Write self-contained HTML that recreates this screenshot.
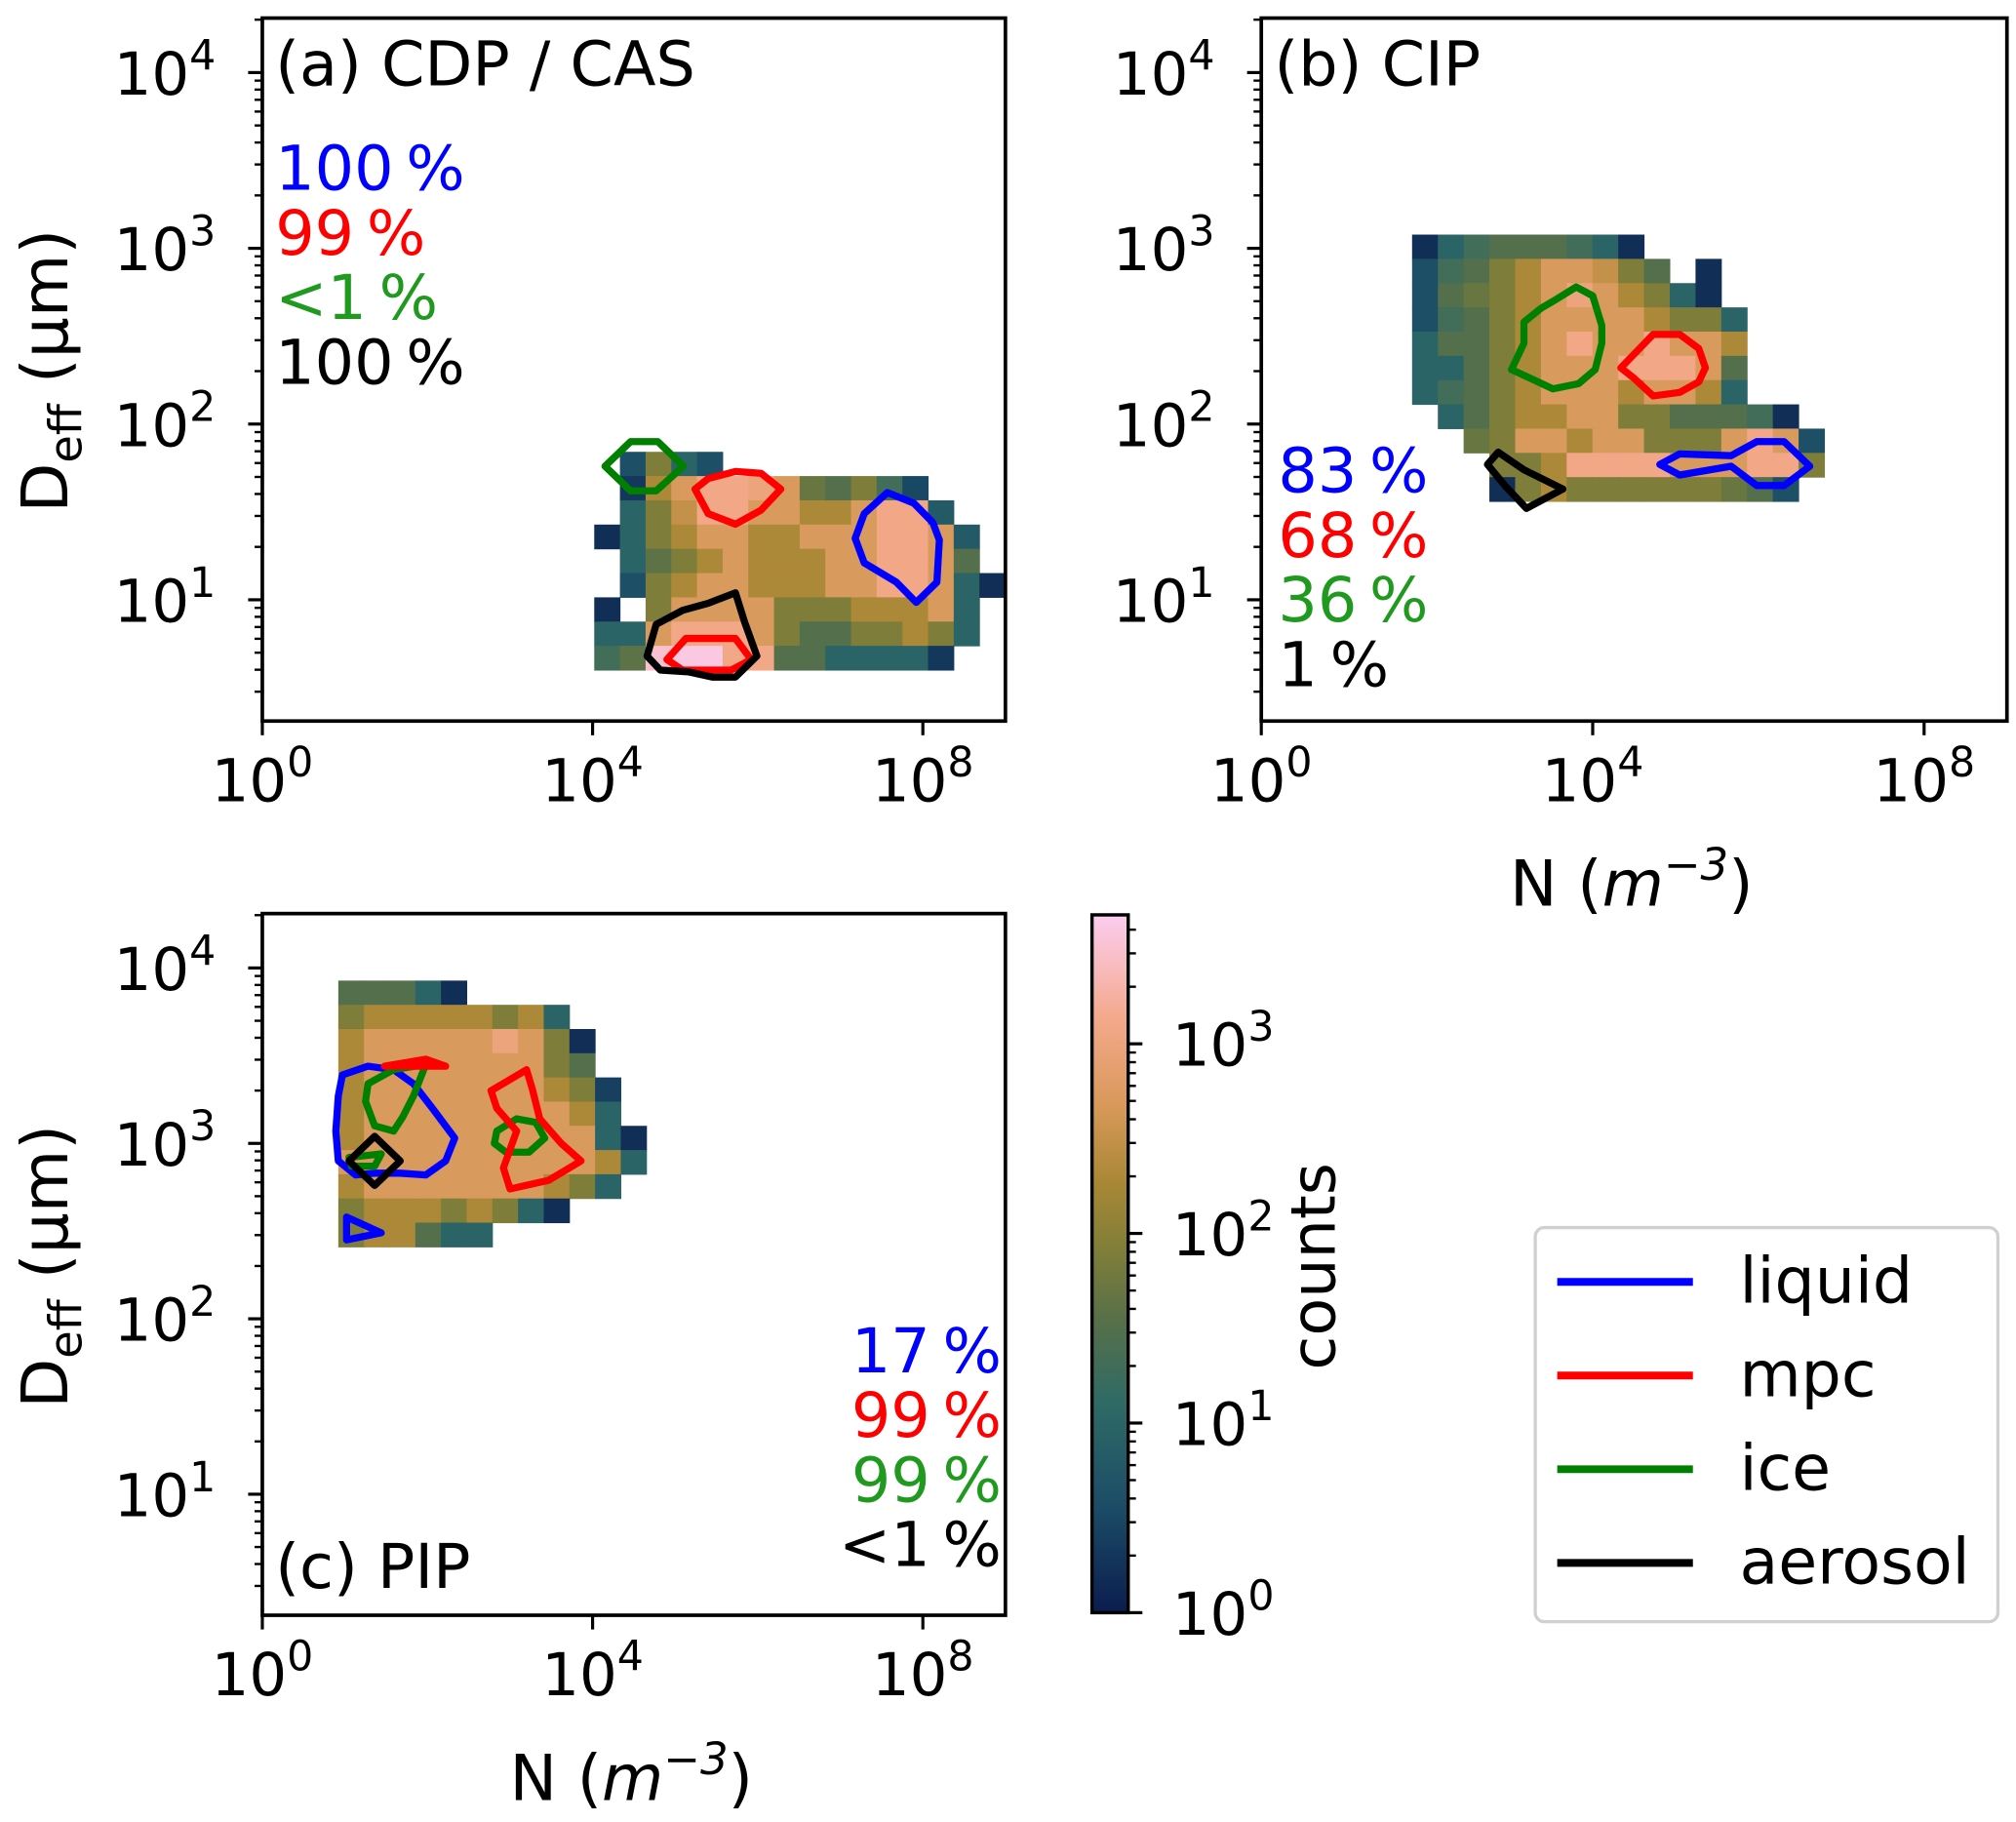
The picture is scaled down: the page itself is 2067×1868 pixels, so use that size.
<!DOCTYPE html>
<html><head><meta charset="utf-8"><style>
html,body{margin:0;padding:0;background:#fff;}
svg{display:block;font-family:"DejaVu Sans","Liberation Sans",sans-serif;}
</style></head><body>
<svg id="fig" width="2067" height="1868" viewBox="0 0 1560 1410" preserveAspectRatio="none" xmlns="http://www.w3.org/2000/svg"></svg>
<script>
// ---- data ----
const xTickExps = [0, 4, 8];
const yTickExps = [1, 2, 3, 4];
const cbTickExps = [0, 1, 2, 3];
const panelTitles = ["(a) CDP / CAS", "(b) CIP", "(c) PIP"];
const pctA = ["100\u2009%", "99\u2009%", "<1\u2009%", "100\u2009%"];
const pctB = ["83\u2009%", "68\u2009%", "36\u2009%", "1\u2009%"];
const pctC = ["17\u2009%", "99\u2009%", "99\u2009%", "<1\u2009%"];
const legendLabels = ["liquid", "mpc", "ice", "aerosol"];
const gridA = {x0: 4.02, y0: 0.60, dx: 0.311, dy: 0.138};
const gridB = {x0: 1.82, y0: 1.56, dx: 0.311, dy: 0.138};
const gridC = {x0: 0.92, y0: 2.41, dx: 0.311, dy: 0.138};
const countsA = [
[null,0.6,1.9,1.0,0.6,null,null,null,null,null,null,null,null,null,null,null],
[null,0.3,2.3,2.7,3.1,3.1,3.0,2.7,1.7,1.5,1.9,1.3,0.5,null,null,null],
[null,1.0,1.9,2.5,3.1,3.1,2.7,2.7,2.3,2.3,2.7,3.1,3.1,0.8,null,null],
[0.2,1.0,1.9,2.3,2.7,2.7,2.3,2.3,2.7,2.7,2.7,3.1,3.1,2.7,0.8,null],
[null,1.0,1.6,1.9,2.3,2.7,2.3,2.3,2.3,2.7,2.7,3.1,3.1,2.7,1.5,null],
[null,0.6,1.9,2.3,2.7,2.7,2.3,2.3,2.3,2.7,2.7,3.1,3.1,2.7,1.0,0.2],
[0.2,null,1.9,2.7,2.7,2.7,2.7,1.9,1.9,1.9,2.3,2.3,2.3,2.7,1.0,null],
[1.0,1.0,2.7,3.1,3.1,3.1,2.7,1.9,1.5,1.5,1.9,1.9,2.3,1.9,1.0,null],
[1.3,1.6,3.5,3.6,3.6,3.1,3.1,1.5,1.5,1.0,1.0,1.0,1.0,0.3,null,null]];
const countsB = [
[0.2,1.0,1.3,1.5,1.5,1.5,1.3,1.0,0.2,null,null,null,null,null,null,null],
[0.6,1.3,1.5,1.9,2.3,2.7,2.7,2.5,1.9,1.5,null,0.2,null,null,null,null],
[0.6,1.5,1.7,1.9,2.3,2.7,3.0,2.7,2.3,1.9,1.0,0.2,null,null,null,null],
[0.6,1.3,1.5,1.9,2.3,2.7,2.7,2.7,2.7,2.3,1.9,1.9,1.0,null,null,null],
[1.0,1.5,1.5,1.9,2.3,2.7,3.1,2.7,2.7,3.1,2.7,2.7,2.3,null,null,null],
[1.0,1.0,1.5,1.9,2.3,2.7,2.7,2.7,3.1,3.1,3.1,2.7,1.5,null,null,null],
[1.0,1.3,1.5,1.9,2.3,2.7,2.7,2.7,2.3,2.7,2.7,2.3,1.0,null,null,null],
[null,1.0,1.5,1.9,2.3,2.3,2.7,2.7,1.9,1.9,1.5,1.5,1.5,1.3,0.2,null],
[null,null,1.7,1.9,2.7,2.7,2.3,2.7,2.7,1.9,1.9,1.9,2.7,3.1,2.7,0.6],
[null,null,null,1.9,1.9,2.3,3.1,3.1,3.1,3.1,2.7,2.7,2.7,3.1,3.1,1.9],
[null,null,null,0.2,1.9,2.3,1.9,1.9,1.9,1.9,1.9,1.9,1.7,1.5,0.6,null]];
const countsC = [
[1.5,1.5,1.5,1.0,0.2,null,null,null,null,null,null,null],
[1.9,2.3,2.3,2.3,2.3,2.3,1.9,2.3,1.0,null,null,null],
[2.3,2.7,2.7,2.7,2.7,2.7,3.0,2.7,1.9,0.2,null,null],
[2.3,2.7,2.7,2.7,2.7,2.7,2.7,2.7,1.9,1.5,null,null],
[2.3,2.7,2.7,2.7,2.7,2.7,2.7,2.7,2.3,1.9,0.4,null],
[2.3,2.7,2.7,2.7,2.7,2.7,2.7,2.7,2.7,2.3,1.0,null],
[2.3,2.7,2.7,2.7,2.7,2.7,2.7,2.7,2.7,2.7,1.0,0.2],
[2.7,2.7,2.7,2.7,2.7,2.7,2.7,2.7,2.7,2.7,2.3,1.0],
[2.3,2.7,2.7,2.7,2.7,2.7,2.7,2.7,2.3,1.9,1.0,null],
[1.9,2.3,2.3,2.3,1.9,2.3,1.9,1.0,0.2,null,null,null],
[1.9,2.3,2.3,1.5,1.0,1.0,null,null,null,null,null,null]];
const contA_ice = [[4.15,1.76],[4.46,1.90],[4.79,1.90],[5.10,1.76],[4.77,1.62],[4.46,1.62]];
const contA_mpc1 = [[5.24,1.63],[5.40,1.69],[5.73,1.73],[6.04,1.72],[6.28,1.63],[6.04,1.51],[5.73,1.43],[5.40,1.49]];
const contA_mpc2 = [[4.90,0.66],[5.13,0.78],[5.73,0.78],[5.92,0.66],[5.68,0.60],[5.09,0.60]];
const contA_liq = [[7.57,1.61],[7.89,1.55],[8.12,1.44],[8.20,1.34],[8.17,1.10],[7.92,0.985],[7.68,1.10],[7.29,1.21],[7.18,1.35],[7.29,1.49]];
const contA_aer = [[5.73,1.04],[5.84,0.875],[5.99,0.68],[5.73,0.56],[5.45,0.56],[5.16,0.59],[4.82,0.60],[4.66,0.68],[4.77,0.86],[5.09,0.94],[5.40,0.98]];
const contB_ice = [[3.80,2.78],[4.00,2.73],[4.11,2.56],[4.11,2.46],[4.03,2.31],[3.83,2.23],[3.52,2.20],[3.25,2.26],[3.02,2.31],[3.17,2.46],[3.17,2.58],[3.38,2.66],[3.56,2.71]];
const contB_mpc = [[4.34,2.32],[4.73,2.51],[5.05,2.51],[5.28,2.43],[5.36,2.32],[5.28,2.24],[5.05,2.18],[4.73,2.16],[4.50,2.26]];
const contB_liq = [[4.81,1.77],[5.05,1.83],[5.67,1.82],[5.98,1.90],[6.31,1.90],[6.62,1.76],[6.31,1.65],[5.98,1.65],[5.67,1.76],[5.05,1.71]];
const contB_aer = [[2.86,1.84],[2.73,1.77],[2.94,1.65],[3.20,1.52],[3.64,1.63],[3.17,1.74]];
const contC_liq1 = [[0.97,3.39],[1.28,3.44],[1.59,3.42],[1.83,3.34],[2.06,3.20],[2.33,3.03],[2.22,2.90],[1.98,2.82],[1.67,2.83],[1.36,2.83],[1.13,2.82],[0.92,2.90],[0.89,3.07],[0.92,3.27]];
const contC_liq2 = [[1.02,2.58],[1.44,2.49],[1.02,2.45]];
const contC_ice1 = [[1.28,3.34],[1.59,3.42],[1.98,3.45],[1.83,3.27],[1.70,3.15],[1.59,3.07],[1.36,3.10],[1.25,3.24]];
const contC_ice2 = [[1.05,2.92],[1.44,2.94],[1.36,2.87],[1.08,2.87]];
const contC_ice3 = [[2.84,3.07],[3.08,3.14],[3.31,3.12],[3.42,3.03],[3.23,2.95],[2.95,2.95],[2.81,3.00]];
const contC_mpc1 = [[1.48,3.44],[1.98,3.48],[2.22,3.44]];
const contC_mpc2 = [[2.77,3.30],[3.20,3.42],[3.27,3.31],[3.36,3.14],[3.62,3.00],[3.86,2.90],[3.47,2.79],[3.00,2.74],[2.92,2.86],[3.08,3.07],[2.84,3.20]];
const contC_aer = [[1.36,3.04],[1.67,2.90],[1.36,2.76],[1.05,2.90]];

// ---- drawing ----
const NS = "http://www.w3.org/2000/svg";
const svg = document.getElementById("fig");
function mk(tag, attrs, parent) {
  const e = document.createElementNS(NS, tag);
  for (const k in attrs) e.setAttribute(k, attrs[k]);
  (parent || svg).appendChild(e);
  return e;
}
const COL = {liquid: "#0000ff", mpc: "#ff0000", ice: "#008000", aerosol: "#000000"};
const PCTCOL = ["#0000ff", "#ff0000", "#1f9a1f", "#000000"];
const stops = [[0, [11,29,79]], [0.15, [27,76,102]], [0.3, [47,106,102]], [0.42, [87,112,72]], [0.52, [128,126,56]], [0.62, [170,136,54]], [0.72, [214,152,88]], [0.85, [244,168,138]], [1, [252,205,240]]];
const CMAX = 3.68;
function cmap(v) {
  let t = Math.max(0, Math.min(1, v / CMAX));
  for (let i = 1; i < stops.length; i++) {
    if (t <= stops[i][0]) {
      const a = stops[i-1], b = stops[i], f = (t - a[0]) / (b[0] - a[0]);
      const c = a[1].map((x, j) => Math.round(x + (b[1][j] - x) * f));
      return "rgb(" + c.join(",") + ")";
    }
  }
  return "rgb(252,205,240)";
}
function powText(parent, x, y, exp, anchor, size, name) {
  const t = mk("text", {x: x, y: y, "font-size": size, "text-anchor": anchor, fill: "#000"}, parent);
  
  
  t.appendChild(document.createTextNode("10"));
  const s = mk("tspan", {dy: -size * 0.42, "font-size": size * 0.7}, t);
  s.textContent = String(exp);
  return t;
}
function makePanel(id, L, R, T, B, grid, counts, contours, title, titleY, pcts, pctX, pctY0, pctAnchor, showXLabel) {
  const g = mk("g", {});
  
  
  const xs = lx => L + lx * (R - L) / 9;
  const ys = ly => B - (ly - 0.31) * (B - T) / 4;
  const hm = mk("g", {}, g);
  
  
  const n = counts.length;
  counts.forEach((row, r) => row.forEach((v, c) => {
    if (v === null) return;
    const x1 = xs(grid.x0 + c * grid.dx), x2 = xs(grid.x0 + (c + 1) * grid.dx);
    const yb = grid.y0 + (n - 1 - r) * grid.dy;
    const y1 = ys(yb + grid.dy), y2 = ys(yb);
    const rc = mk("rect", {x: x1, y: y1, width: x2 - x1 + 0.4, height: y2 - y1 + 0.4, fill: cmap(v)}, hm);
    
    
  }));
  contours.forEach(([pts, kind]) => {
    const p = mk("polygon", {points: pts.map(q => xs(q[0]) + "," + ys(q[1])).join(" "), fill: "none", stroke: COL[kind], "stroke-width": 5.5, "stroke-linejoin": "round"}, g);
    
    
  });
  const fr = mk("rect", {x: L, y: T, width: R - L, height: B - T, fill: "none", stroke: "#000", "stroke-width": 2.8}, g);
  
  
  xTickExps.forEach(e => {
    const x = xs(e);
    const tk = mk("line", {x1: x, x2: x, y1: B, y2: B + 11, stroke: "#000", "stroke-width": 2.4}, g);
    
    
    powText(g, x, B + 62, e, "middle", 46, "x-tick-label");
  });
  for (let d = 0; d <= 4; d++) {
    for (let m = 1; m <= 9; m++) {
      const ly = d + Math.log10(m);
      if (ly < 0.31 || ly > 4.31) continue;
      const y = ys(ly);
      const len = m === 1 ? 11 : 6;
      const tk = mk("line", {x1: L - len, x2: L, y1: y, y2: y, stroke: "#000", "stroke-width": m === 1 ? 2.4 : 1.8}, g);
      
      
    }
  }
  yTickExps.forEach(e => powText(g, L - 36, ys(e) + 17, e, "end", 46, "y-tick-label"));
  const tt = mk("text", {x: L + 10, y: titleY, "font-size": 48, fill: "#000"}, g);
  
  
  tt.textContent = title;
  pcts.forEach((s, i) => {
    const t = mk("text", {x: pctX, y: pctY0 + i * 50, "font-size": 48, fill: PCTCOL[i], "text-anchor": pctAnchor}, g);
    
    
    t.textContent = s;
  });
  if (showXLabel) {
    const xl = mk("text", {x: (L + R) / 2 - 2, y: B + 143, "font-size": 49, "text-anchor": "middle", fill: "#000"}, g);
    
    
    xl.appendChild(document.createTextNode("N ("));
    const it = mk("tspan", {"font-style": "italic"}, xl); it.textContent = "m";
    const sp = mk("tspan", {dy: -20, "font-size": 34, "font-style": "italic"}, xl); sp.textContent = "\u22123";
    const cl = mk("tspan", {dy: 20}, xl); cl.textContent = ")";
  }
  return g;
}
makePanel("a", 203, 778, 14, 558, gridA, countsA,
  [[contA_ice,"ice"],[contA_mpc1,"mpc"],[contA_mpc2,"mpc"],[contA_liq,"liquid"],[contA_aer,"aerosol"]],
  panelTitles[0], 66, pctA, 213, 147, "start", false);
makePanel("b", 976, 1553, 14, 558, gridB, countsB,
  [[contB_ice,"ice"],[contB_mpc,"mpc"],[contB_liq,"liquid"],[contB_aer,"aerosol"]],
  panelTitles[1], 66, pctB, 989, 381, "start", true);
makePanel("c", 203, 778, 707, 1250, gridC, countsC,
  [[contC_liq1,"liquid"],[contC_liq2,"liquid"],[contC_ice1,"ice"],[contC_ice2,"ice"],[contC_ice3,"ice"],[contC_mpc1,"mpc"],[contC_mpc2,"mpc"],[contC_aer,"aerosol"]],
  panelTitles[2], 1229, pctC, 775, 1062, "end", true);
[[287, 'y-axis-title-a'], [980, 'y-axis-title-c']].forEach(([cy, nm]) => {
  const t = mk("text", {x: 0, y: 0, "font-size": 50, "text-anchor": "middle", fill: "#000", transform: "translate(52," + cy + ") rotate(-90)"});
  
  
  t.appendChild(document.createTextNode("D"));
  const s = mk("tspan", {dy: 11, "font-size": 35}, t); s.textContent = "eff";
  const r = mk("tspan", {dy: -11}, t); r.textContent = " (\u03bcm)";
});
const cbL = 845, cbR = 873, cbT = 708, cbB = 1248;
const cys = v => cbB - v * (cbB - cbT) / CMAX;
const defs = mk("defs", {});
const grad = mk("linearGradient", {id: "cbg", x1: 0, y1: 1, x2: 0, y2: 0}, defs);
stops.forEach(s => mk("stop", {offset: s[0], "stop-color": "rgb(" + s[1].join(",") + ")"}, grad));
const cb = mk("g", {});


mk("rect", {x: cbL, y: cbT, width: cbR - cbL, height: cbB - cbT, fill: "url(#cbg)", stroke: "#000", "stroke-width": 2.6}, cb);
for (let d = 0; d <= 3; d++) for (let m = 1; m <= 9; m++) {
  const v = d + Math.log10(m);
  if (v > CMAX) continue;
  const y = cys(v), len = m === 1 ? 11 : 6;
  const tk = mk("line", {x1: cbR, x2: cbR + len, y1: y, y2: y, stroke: "#000", "stroke-width": m === 1 ? 2.4 : 1.8}, cb);
  
  
}
cbTickExps.forEach(e => powText(cb, cbR + 34, cys(e) + 17, e, "start", 46, "colorbar-tick-label"));
const cbt = mk("text", {x: 0, y: 0, "font-size": 48, "text-anchor": "middle", fill: "#000", transform: "translate(1033,980) rotate(-90)"}, cb);


cbt.textContent = "counts";
const lg = mk("g", {});


mk("rect", {x: 1188, y: 950, width: 358, height: 305, rx: 7, fill: "#fff", stroke: "#d0d0d0", "stroke-width": 2.5}, lg);
legendLabels.forEach((lab, i) => {
  const y = 992 + i * 72.5;
  const ln = mk("line", {x1: 1205, x2: 1310, y1: y, y2: y, stroke: COL[lab], "stroke-width": 6}, lg);
  
  
  const t = mk("text", {x: 1346, y: y + 16, "font-size": 49, fill: "#000"}, lg);
  
  
  t.textContent = lab;
});
</script>
</body></html>
